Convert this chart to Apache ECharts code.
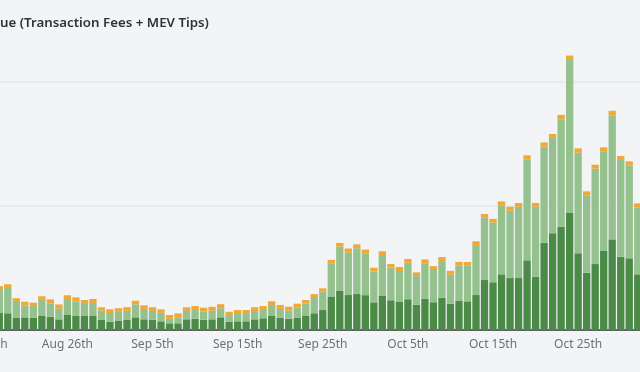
<!DOCTYPE html>
<html>
<head>
<meta charset="utf-8">
<script src="https://cdn.jsdelivr.net/npm/echarts@6/dist/echarts.min.js"></script>
<style>
html,body{margin:0;padding:0;background:#f3f4f6;}
#c{width:640px;height:372px;}
</style>
</head>
<body>
<div id="c"></div>
<script>
var titleText = 'ue (Transaction Fees + MEV Tips)';
var categories = [
'Aug 16','Aug 17','Aug 18','Aug 19','Aug 20','Aug 21','Aug 22','Aug 23','Aug 24','Aug 25',
'Aug 26','Aug 27','Aug 28','Aug 29','Aug 30','Aug 31','Sep 1','Sep 2','Sep 3','Sep 4',
'Sep 5','Sep 6','Sep 7','Sep 8','Sep 9','Sep 10','Sep 11','Sep 12','Sep 13','Sep 14',
'Sep 15','Sep 16','Sep 17','Sep 18','Sep 19','Sep 20','Sep 21','Sep 22','Sep 23','Sep 24',
'Sep 25','Sep 26','Sep 27','Sep 28','Sep 29','Sep 30','Oct 1','Oct 2','Oct 3','Oct 4',
'Oct 5','Oct 6','Oct 7','Oct 8','Oct 9','Oct 10','Oct 11','Oct 12','Oct 13','Oct 14',
'Oct 15','Oct 16','Oct 17','Oct 18','Oct 19','Oct 20','Oct 21','Oct 22','Oct 23','Oct 24',
'Oct 25','Oct 26','Oct 27','Oct 28','Oct 29','Oct 30','Oct 31','Nov 1'
];
// bottom segment (dark green)
var baseSeg = [
null,null,13.7,13.5,10.1,10.2,9.9,11.3,10.7,8.6,
12.1,11.3,11.3,11.3,8.1,6.7,7.3,8.1,10.2,8.6,
8.1,7.0,5.4,5.4,8.6,9.1,8.3,8.6,10.2,6.6,
7.0,7.0,8.6,9.5,11.3,9.7,9.1,9.7,11.3,13.5,
16.1,26.6,31.5,28.2,29.0,28.1,22.3,27.8,24.0,23.0,
24.8,20.4,25.2,22.4,26.0,21.1,23.8,23.1,28.2,40.3,
38.5,44.9,41.9,41.9,56.2,43.0,70.4,78.0,83.1,94.4,
61.9,46.2,53.2,63.7,73.1,59.1,57.8,44.9
];
// middle segment (light green)
var midSeg = [
null,null,18.5,20.4,12.5,9.7,9.4,12.9,10.8,8.5,
12.1,11.5,9.7,10.5,7.5,7.0,7.3,7.3,10.5,8.3,
7.3,6.9,3.5,4.8,6.7,7.0,6.5,6.9,7.3,4.7,
5.9,5.9,6.7,6.6,8.9,7.3,6.5,8.3,9.9,12.3,
14.8,27.2,35.7,34.1,36.9,33.8,24.7,32.7,26.2,24.6,
29.4,23.1,28.6,26.0,29.6,23.5,28.1,28.7,40.3,50.2,
48.1,55.6,54.3,57.5,81.5,56.5,77.4,76.9,86.9,123.4,
81.1,62.4,76.9,80.4,100.0,78.0,75.0,54.0
];
// top segment (orange)
var topSeg = [
null,null,3.2,3.0,3.0,2.9,2.7,3.0,3.2,3.5,
3.8,3.5,3.2,3.2,2.7,3.0,3.0,3.0,2.9,3.0,
3.0,2.7,3.2,3.2,3.0,3.2,3.2,3.2,3.3,3.4,
3.2,3.2,3.1,3.2,3.0,3.2,3.2,3.2,3.0,3.1,
2.7,2.7,3.0,3.4,3.2,2.9,3.2,3.0,3.0,3.2,
3.1,3.0,3.1,3.1,3.2,3.1,3.0,3.0,3.1,3.0,
3.0,3.2,3.2,3.0,3.2,3.0,3.5,3.2,3.5,3.5,
3.5,3.2,3.2,3.2,3.7,3.2,3.2,3.2
];
var yTicks = [0, 100, 200];

var chart = echarts.init(document.getElementById('c'), null, {renderer: 'canvas'});
function ordinal(s) {
  var d = parseInt(s.split(' ')[1], 10);
  var suf = 'th';
  if (d % 100 < 11 || d % 100 > 13) {
    if (d % 10 === 1) suf = 'st';
    else if (d % 10 === 2) suf = 'nd';
    else if (d % 10 === 3) suf = 'rd';
  }
  return s + suf;
}
var barCommon = {type: 'bar', stack: 'rev', barCategoryGap: '14%', emphasis: {disabled: true}};
chart.setOption({
  backgroundColor: '#f3f4f6',
  animation: false,
  title: {
    text: titleText, left: 0, top: 17, padding: 0,
    textStyle: {fontFamily: 'Noto Sans', fontSize: 13.3, fontWeight: 600, color: '#2f3338'}
  },
  grid: {left: -22, right: -2, top: 32.4, bottom: 42, containLabel: false, outerBoundsMode: 'none'},
  xAxis: {
    type: 'category', data: categories,
    axisLine: {show: true, lineStyle: {color: '#2e3630', width: 1.5}},
    axisTick: {show: false},
    axisLabel: {interval: 9, margin: 9, color: '#6b7178', fontFamily: 'Noto Sans', fontSize: 12,
      hideOverlap: false,
      formatter: function (v) { return ordinal(v); }}
  },
  yAxis: {
    type: 'value', min: yTicks[0], max: 240, interval: yTicks[1] - yTicks[0],
    axisLabel: {show: false}, axisLine: {show: false}, axisTick: {show: false},
    splitLine: {show: true, showMaxLine: false, lineStyle: {color: '#e6e7ea', width: 1.5}}
  },
  series: [
    Object.assign({name: 'base', data: baseSeg, itemStyle: {color: '#4b8b47'}}, barCommon),
    Object.assign({name: 'mid', data: midSeg, itemStyle: {color: '#95c18f'}}, barCommon),
    Object.assign({name: 'top', data: topSeg, itemStyle: {color: '#eea936'}}, barCommon)
  ]
});
</script>
</body>
</html>
